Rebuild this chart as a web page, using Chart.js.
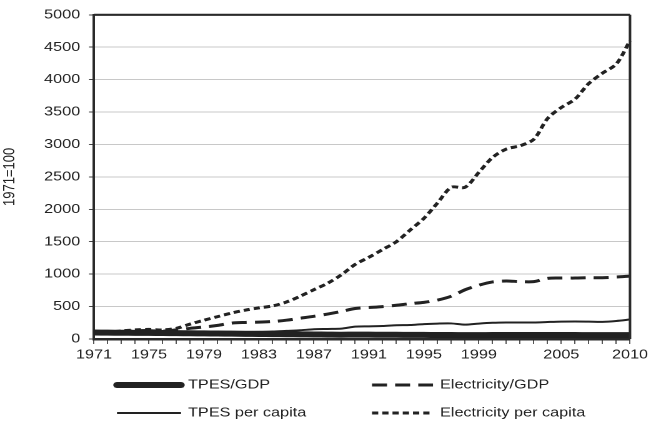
<!DOCTYPE html>
<html><head><meta charset="utf-8">
<script src="https://cdn.jsdelivr.net/npm/chart.js@4/dist/chart.umd.min.js"></script>
<style>
html,body{margin:0;padding:0;background:#fff;overflow:hidden}
#wrap{width:529px;height:433px;position:relative;transform:scaleX(1.2495);transform-origin:0 0}
#c{width:529px;height:433px;display:block}
</style>
</head><body><div id="wrap"><canvas id="c" width="529" height="433"></canvas></div>
<script>
const years = ['1971','1972','1973','1974','1975','1976','1977','1978','1979','1980','1981','1982','1983','1984','1985','1986','1987','1988','1989','1990','1991','1992','1993','1994','1995','1996','1997','1998','1999','2000','2001','2002','2003','2004','2005','2006','2007','2008','2009','2010'];
const shownTickLabels = ['1971','1975','1979','1983','1987','1991','1995','1999','2005','2010'];
const tpesGdp = [100,98,96,95,94,92,90,88,86,84,82,80,78,76,74,72,70,68,66,68,67,66,65,64,63,62,61,60,60,61,62,62,62,62,62,61,60,59,59,60];
const electricityGdp = [100,100,105,125,130,120,140,165,185,210,245,255,260,270,290,320,350,385,425,470,485,500,520,545,565,600,660,760,830,880,895,885,885,935,940,940,945,945,955,970];
const tpesPerCapita = [100,100,105,105,105,105,110,110,112,112,110,110,112,115,125,135,150,155,160,190,195,200,212,215,230,238,240,222,238,250,255,255,255,262,268,270,268,265,278,300];
const electricityPerCapita = [100,105,125,140,148,140,165,230,290,345,400,445,480,510,570,660,760,860,990,1150,1260,1380,1500,1680,1860,2100,2340,2340,2570,2800,2930,2980,3080,3400,3570,3700,3940,4100,4240,4600];
const seriesNames = ['TPES/GDP','Electricity/GDP','TPES per capita','Electricity per capita'];
const yTitle = '1971=100';

const FONT = 'Liberation Sans, Arial, sans-serif';
const FS = 13;
const INK = '#222222';
const SX = 1.2495; // horizontal stretch of the reference picture

const frame = {
  id: 'frame',
  afterDatasetsDraw(chart) {
    const {ctx, chartArea: a} = chart;
    ctx.save();
    ctx.strokeStyle = '#2a2a2a';
    ctx.lineWidth = 2.2;
    ctx.beginPath();
    ctx.moveTo(a.left, a.top); ctx.lineTo(a.right, a.top);
    ctx.stroke();
    ctx.lineWidth = 2;
    ctx.beginPath();
    ctx.moveTo(a.right, a.top); ctx.lineTo(a.right, a.bottom);
    ctx.stroke();
    ctx.restore();
  },
  afterDraw(chart) {
    const {ctx} = chart;
    const cols = [{x0:117/SX, x1:181/SX, tx:188/SX}, {x0:372/SX, x1:433/SX, tx:440/SX}];
    const rows = [385, 413];
    ctx.save();
    ctx.font = FS + 'px ' + FONT;
    ctx.textBaseline = 'middle';
    ctx.fillStyle = INK;
    chart.data.datasets.forEach((ds, i) => {
      const c = cols[i % 2], y = rows[Math.floor(i / 2)];
      ctx.strokeStyle = ds.borderColor;
      ctx.lineWidth = ds.borderWidth;
      ctx.lineCap = ds.legendCap || 'butt';
      ctx.setLineDash(ds.borderDash || []);
      ctx.beginPath(); ctx.moveTo(c.x0, y); ctx.lineTo(c.x1, y); ctx.stroke();
      ctx.setLineDash([]);
      ctx.fillText(ds.label, c.tx, y);
    });
    ctx.restore();
  }
};

new Chart(document.getElementById('c'), {
  type: 'line',
  data: {
    labels: years,
    datasets: [
      {label: seriesNames[0], data: tpesGdp, borderColor: INK, borderWidth: 6, legendCap: 'round', tension: 0.3},
      {label: seriesNames[1], data: electricityGdp, borderColor: INK, borderWidth: 3, borderDash: [12, 6.5], tension: 0.3},
      {label: seriesNames[2], data: tpesPerCapita, borderColor: INK, borderWidth: 2, tension: 0.3},
      {label: seriesNames[3], data: electricityPerCapita, borderColor: INK, borderWidth: 3, borderDash: [5, 3.2], tension: 0.3}
    ]
  },
  options: {
    responsive: false,
    devicePixelRatio: 2,
    animation: false,
    elements: {point: {radius: 0}},
    layout: {padding: {top: 14, right: 529 - 630 / SX, bottom: 72, left: 0}},
    plugins: {legend: {display: false}, tooltip: {enabled: false}},
    scales: {
      x: {
        type: 'category',
        offset: false,
        afterFit(s) { s.height = 22; },
        grid: {drawOnChartArea: false, drawTicks: true, tickLength: 5, color: '#444', lineWidth: 0.9},
        border: {color: '#2a2a2a', width: 2.5},
        ticks: {
          autoSkip: false, maxRotation: 0, padding: 3,
          color: INK, font: {family: FONT, size: FS},
          callback(v, i) { const l = years[i]; return shownTickLabels.includes(l) ? l : ''; }
        }
      },
      y: {
        min: 0, max: 5000,
        afterFit(s) { s.width = 94 / SX; },
        grid: {color: '#c8c8c8', lineWidth: 1, tickLength: 4, tickColor: '#444'},
        border: {color: '#2a2a2a', width: 2},
        ticks: {stepSize: 500, padding: 7, color: INK, font: {family: FONT, size: FS}, callback: v => String(v)},
        title: {display: true, text: yTitle, color: INK, font: {family: FONT, size: FS}, padding: {top: 0, bottom: 0}}
      }
    }
  },
  plugins: [frame]
});
</script></body></html>
